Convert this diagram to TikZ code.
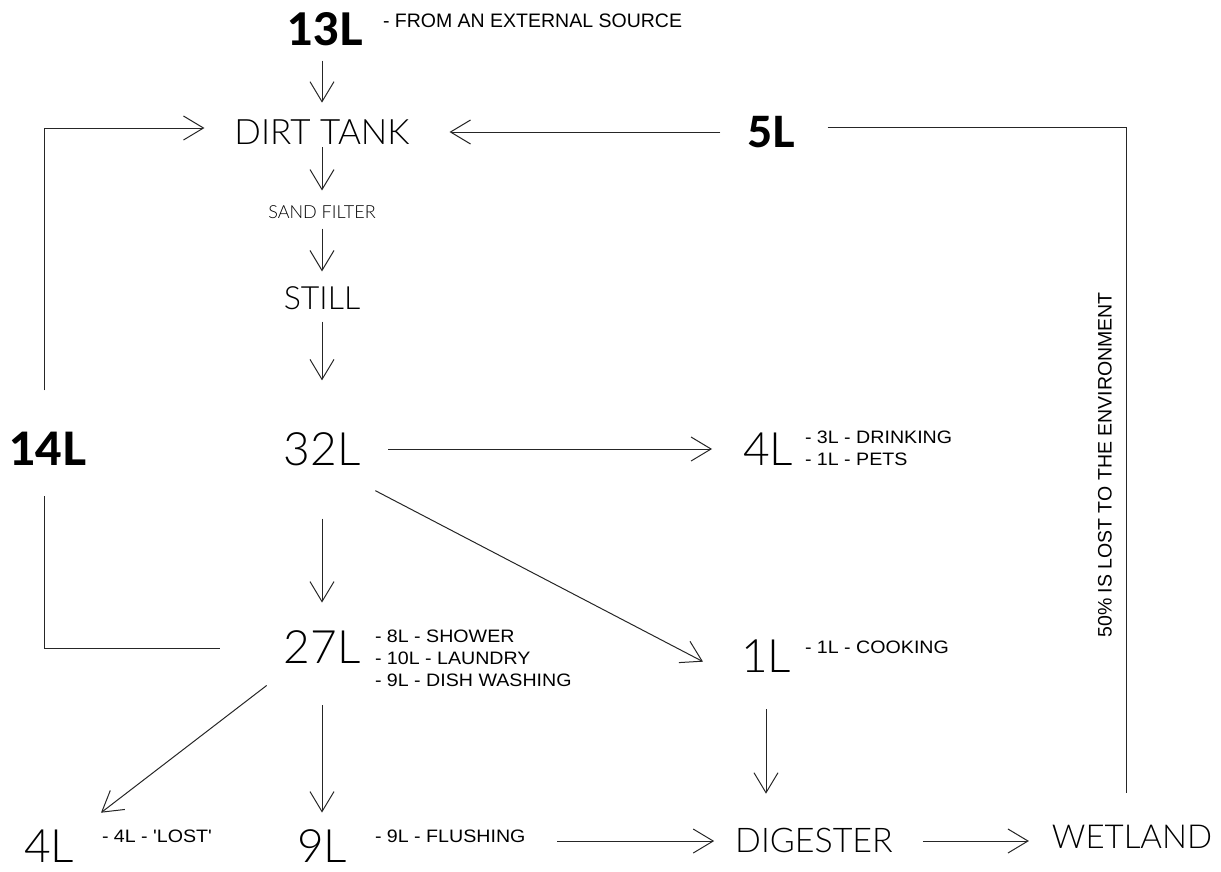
\documentclass[tikz,border=0pt]{standalone}
\usepackage{fontspec}
\usetikzlibrary{arrows.meta,calc}
\newfontfamily\lightf{Lato Light}
\newfontfamily\boldf{Lato Heavy}
\newfontfamily\smallf{Liberation Sans}
\newfontfamily\smallsf{Liberation Sans}[FakeStretch=1.09]
\begin{document}
\begin{tikzpicture}[x=1pt,y=-1pt,
  every node/.style={inner sep=0pt,outer sep=0pt},
  big/.style={font=\lightf\fontsize{46}{46}\selectfont},
  mid/.style={font=\lightf\fontsize{34}{34}\selectfont},
  bnum/.style={font=\boldf\fontsize{45}{45}\selectfont},
  lab/.style={font=\smallf\fontsize{19.5}{19.5}\selectfont,anchor=base west},
  sub/.style={font=\smallsf\fontsize{18}{18}\selectfont,anchor=base west},
  ln/.style={draw=black!85,line width=1pt},
  arr/.style={ln,-{Straight Barb[length=20pt,width=24pt,line width=1pt]}}]
\useasboundingbox (0,0) rectangle (1221,871);
% nodes
\node[bnum] (n13) at (325,29) {13L};
\node[lab] (src) at (383,27) {- FROM AN EXTERNAL SOURCE};
\node[mid,font=\lightf\fontsize{35}{35}\selectfont] (dirt) at (322,132) {DIRT TANK};
\node[bnum,font=\boldf\fontsize{43}{43}\selectfont] (five) at (771,132) {5L};
\node[font=\lightf\fontsize{18}{18}\selectfont] (sand) at (322,212) {SAND FILTER};
\node[font=\lightf\fontsize{32}{32}\selectfont] (still) at (322,298) {STILL};
\node[big] (n32) at (322,449) {32L};
\node[bnum,font=\boldf\fontsize{46}{46}\selectfont] (n14) at (48,449) {14L};
\node[big] (n4r) at (768,449) {4L};
\node[sub] (drink) at (805,443) {- 3L - DRINKING};
\node[sub] (pets) at (805,465) {- 1L - PETS};
\node[big] (n27) at (322,647) {27L};
\node[sub] (shower) at (375,642) {- 8L - SHOWER};
\node[sub] (laundry) at (375,664) {- 10L - LAUNDRY};
\node[sub] (dish) at (375,686) {- 9L - DISH WASHING};
\node[big] (n1) at (766,656) {1L};
\node[sub] (cook) at (805,653) {- 1L - COOKING};
\node[big] (n4l) at (49,846) {4L};
\node[sub] (lost) at (102,842) {- 4L - 'LOST'};
\node[big] (n9) at (322,846) {9L};
\node[sub] (flush) at (375,842) {- 9L - FLUSHING};
\node[mid] (dig) at (814,840) {DIGESTER};
\node[mid,font=\lightf\fontsize{33}{33}\selectfont] (wet) at (1132,837) {WETLAND};
\node[lab,anchor=center,rotate=90] (env) at (1105,465) {50\% IS LOST TO THE ENVIRONMENT};
% vertical chain
\draw[arr,shorten <=15pt,shorten >=17pt] (n13.south -| dirt) -- (dirt.north);
\draw[arr,shorten <=3pt,shorten >=15pt] (dirt.south) -- (sand.north);
\draw[arr,shorten <=10pt,shorten >=15pt] (sand.south) -- (still.north);
\draw[arr,shorten <=12pt,shorten >=52pt] (still.south) -- (n32.north);
\draw[arr,shorten <=53pt,shorten >=28pt] (n32.south) -- (n27.north);
\draw[arr,shorten <=42pt,shorten >=17pt] (n27.south) -- (n9.north);
% right branches
\draw[arr,shorten <=28pt,shorten >=31pt] (n32.east) -- (n4r.west |- n32.east);
\draw[arr] ($(n32.south east)+(15,25)$) -- ($(n1.north west)+(-38,22)$);
\draw[arr,shorten <=37pt,shorten >=34pt] (n1.south) -- (n1.south |- dig.north);
\draw[arr] ($(n27.south west)+(-17,22)$) -- ($(n4l.north east)+(27,-17)$);
\draw[arr,shorten <=32pt,shorten >=21pt] ($(flush.east |- dig.west)+(0,1)$) -- ($(dig.west)+(0,1)$);
\draw[arr,shorten <=30pt,shorten >=23pt] ($(dig.east)+(0,1)$) -- ($(dig.east -| wet.west)+(0,1)$);
% feedback
\draw[arr,shorten <=27pt,shorten >=40pt] (five.west) -- (dirt.east);
\draw[ln] ($(five.east)+(33,-5)$) -| ($(wet.north)+(-6,-32)$);
\draw[ln] ($(n27.west)+(-64,1)$) -| ($(n14.south)+(-4,30)$);
\draw[arr] ($(n14.north)+(-4,-42)$) |- ($(dirt.west)+(-30,-4)$);
\end{tikzpicture}
\end{document}
